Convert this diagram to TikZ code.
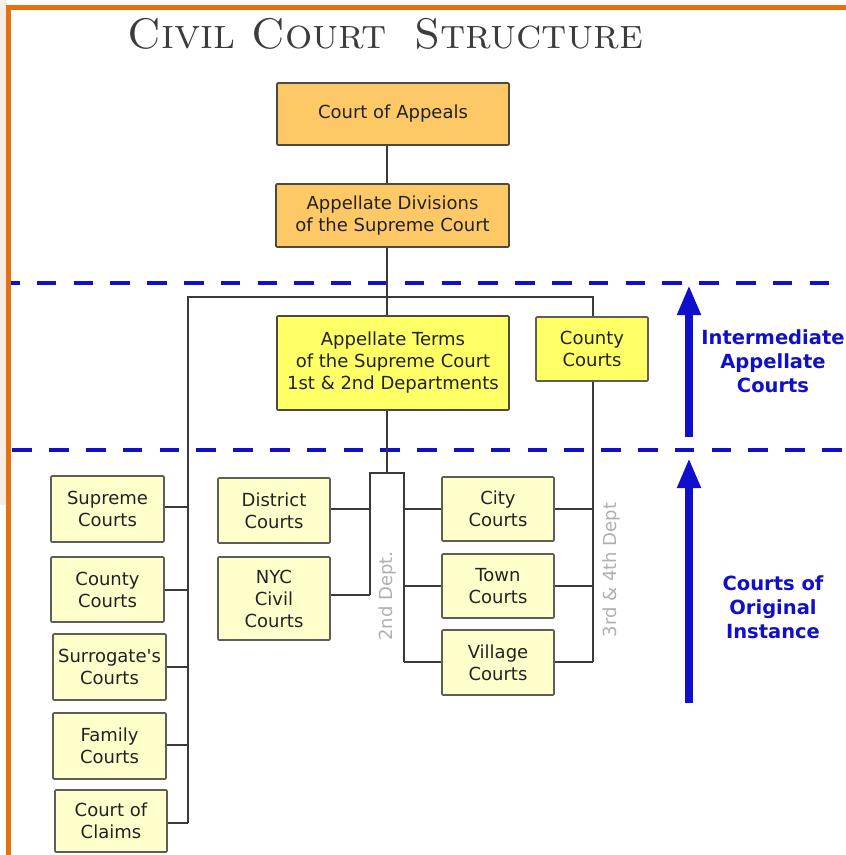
\documentclass[tikz,border=0pt]{standalone}
\usepackage{fontspec}
\usetikzlibrary{arrows.meta}
\newfontfamily\boxfont{DejaVu Sans}
\newcommand\boxtxt{\boxfont\fontsize{18}{22}\selectfont}
\newcommand\labtxt{\boxfont\bfseries\fontsize{19.5}{24}\selectfont}
\definecolor{orangefill}{HTML}{FDC966}
\definecolor{yellowfill}{HTML}{FFFF66}
\definecolor{paleyellow}{HTML}{FFFFCC}
\definecolor{boxline}{HTML}{4A4A40}
\definecolor{lowline}{HTML}{5E5E58}
\definecolor{connc}{HTML}{3A3A3A}
\definecolor{txt}{HTML}{222222}
\definecolor{blueline}{HTML}{1010CC}
\definecolor{deptgray}{HTML}{B0B0B0}
\definecolor{framec}{HTML}{E5700E}
\definecolor{stripc}{HTML}{F7EEE5}
\definecolor{titlec}{HTML}{3C3C3C}
\begin{document}
\begin{tikzpicture}[x=1pt,y=-1pt,
  box/.style={draw=boxline, line width=1.6pt, rounded corners=1pt, inner sep=0pt, align=center, font=\boxtxt, text=txt},
  topbox/.style={box, fill=orangefill},
  midbox/.style={box, fill=yellowfill},
  lowbox/.style={box, fill=paleyellow, draw=lowline},
  conn/.style={draw=connc, line width=2pt},
  band/.style={draw=blueline, line width=4pt, dash pattern=on 19.5pt off 17.3pt},
  uparrow/.style={draw=blueline, line width=8pt, -{Triangle[width=22pt,length=30pt]}},
  lab/.style={text=blueline, font=\labtxt, align=center},
  dept/.style={text=deptgray, font=\boxtxt, rotate=90}
]
\useasboundingbox (0,0) rectangle (846,855);
\fill[white] (0,0) rectangle (846,855);
\fill[stripc] (0,0) rectangle (7,505);

% title
\node[text=titlec, anchor=base, inner sep=0pt] (title) at (385.5,48)
  {\resizebox{515pt}{!}{\fontsize{39}{40}\selectfont\textsc{Civil Court\hspace{0.25em} Structure}}};

% dashed band lines
\coordinate (d1a) at (11,283); \coordinate (d1b) at (846,283);
\coordinate (d2a) at (12.4,450); \coordinate (d2b) at (846,450);
\draw[band, dash phase=11pt] (d1a) -- (d1b);
\draw[band] (d2a) -- (d2b);

% boxes
\node[topbox, minimum width=232pt, minimum height=62pt] (coa) at (393,114) {Court of Appeals};
\node[topbox, minimum width=233pt, minimum height=63pt] (ad) at (392.5,215.5) {Appellate Divisions\\of the Supreme Court};
\node[midbox, minimum width=232pt, minimum height=94pt] (at) at (393,363) {Appellate Terms\\of the Supreme Court\\1st \& 2nd Departments};
\node[midbox, draw=lowline, minimum width=112pt, minimum height=64pt] (cc1) at (592,349) {County\\Courts};

\node[lowbox, minimum width=112pt, minimum height=65pt] (dc) at (274,510.5) {District\\Courts};
\node[lowbox, minimum width=112pt, minimum height=83pt] (nyc) at (274,598.5) {NYC\\Civil\\Courts};
\node[lowbox, minimum width=112pt, minimum height=64pt] (city) at (498,509) {City\\Courts};
\node[lowbox, minimum width=112pt, minimum height=64pt] (town) at (498,586) {Town\\Courts};
\node[lowbox, minimum width=112pt, minimum height=65pt] (village) at (498,662.5) {Village\\Courts};

\node[lowbox, minimum width=113pt, minimum height=66pt] (sup) at (107.5,509) {Supreme\\Courts};
\node[lowbox, minimum width=113pt, minimum height=65pt] (cty) at (107.5,589.5) {County\\Courts};
\node[lowbox, minimum width=113pt, minimum height=66pt] (sur) at (109.5,667) {Surrogate's\\Courts};
\node[lowbox, minimum width=113pt, minimum height=66pt] (fam) at (109.5,746) {Family\\Courts};
\node[lowbox, minimum width=112pt, minimum height=62pt] (coc) at (111,821) {Court of\\Claims};

% connector rails
\coordinate (sp) at (387,0);
\coordinate (barL) at (188,297);
\coordinate (barR) at (593,297);
\coordinate (leftEnd) at (188,823);
\coordinate (rr) at (593,662);
\coordinate (j) at (387,473);
\coordinate (jl) at (370,473);
\coordinate (jr) at (404,473);
\coordinate (jlb) at (370,595);
\coordinate (jrb) at (404,662);
% connector heights
\coordinate (ySup) at (0,507);
\coordinate (yCty) at (0,590);
\coordinate (ySur) at (0,667);
\coordinate (yFam) at (0,745);
\coordinate (yCoc) at (0,823);
\coordinate (yDc) at (0,509);
\coordinate (yCity) at (0,509);
\coordinate (yTown) at (0,586);
\coordinate (yVil) at (0,662);

\draw[conn] (coa.south -| sp) -- (ad.north -| sp);
\draw[conn] (ad.south -| sp) -- (at.north -| sp);
\draw[conn] (cc1.north -| barR) -- (barR) -- (barL) -- (leftEnd);
\draw[conn] (sup.east |- ySup) -- (barL |- ySup);
\draw[conn] (cty.east |- yCty) -- (barL |- yCty);
\draw[conn] (sur.east |- ySur) -- (barL |- ySur);
\draw[conn] (fam.east |- yFam) -- (barL |- yFam);
\draw[conn] (coc.east |- yCoc) -- (leftEnd);

\draw[conn] (cc1.south -| barR) -- (rr);
\draw[conn] (city.east |- yCity) -- (rr |- yCity);
\draw[conn] (town.east |- yTown) -- (rr |- yTown);
\draw[conn] (village.east |- yVil) -- (rr);

\draw[conn] (at.south -| sp) -- (j);
\draw[conn] (jlb) -- (jl) -- (jr) -- (jrb);
\draw[conn] (dc.east |- yDc) -- (jl |- yDc);
\draw[conn] (nyc.east |- jlb) -- (jlb);
\draw[conn] (city.west |- yCity) -- (jr |- yCity);
\draw[conn] (town.west |- yTown) -- (jr |- yTown);
\draw[conn] (village.west |- yVil) -- (jrb);

\node[dept] (dept2) at (388,596) {2nd Dept.};
\node[dept] (dept34) at (612,570) {3rd \& 4th Dept};

% arrows and labels
\coordinate (a1s) at (689,437); \coordinate (a1e) at (689,285);
\coordinate (a2s) at (689,703); \coordinate (a2e) at (689,458);
\draw[uparrow] (a1s) -- (a1e);
\draw[uparrow] (a2s) -- (a2e);
\node[lab] (lab1) at (773,361) {Intermediate\\Appellate\\Courts};
\node[lab] (lab2) at (773,607.5) {Courts of\\Original\\Instance};

% frame
\draw[framec, line width=4.5pt] (8.5,855) -- (8.5,7.5) -- (846,7.5);
\end{tikzpicture}
\end{document}
